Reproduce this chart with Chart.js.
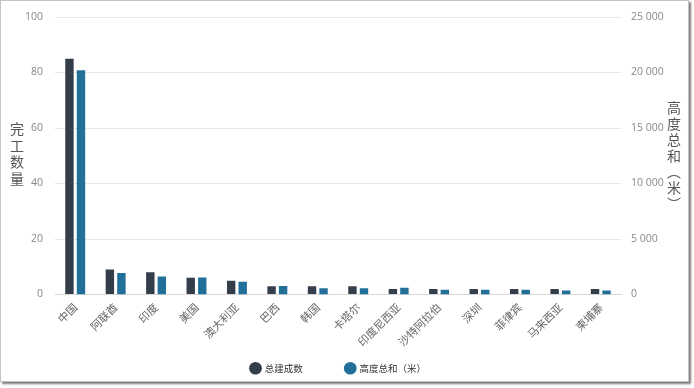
<!DOCTYPE html>
<html>
<head>
<meta charset="utf-8">
<script src="https://cdn.jsdelivr.net/npm/chart.js@4"></script>
<style>
  body { margin: 0; background: #fff; }
  .frame {
    position: absolute; left: 0; top: 0;
    width: 687px; height: 380px;
    border: 1px solid #c4c4c4;
    box-shadow: 2px 2px 2px #7a7a7a;
    background: #fff;
  }
</style>
</head>
<body>
<div class="frame"><canvas id="chart" width="687" height="380"></canvas></div>
<script>
const categories = ['中国', '阿联酋', '印度', '美国', '澳大利亚', '巴西', '韩国', '卡塔尔', '印度尼西亚', '沙特阿拉伯', '深圳', '菲律宾', '马来西亚', '柬埔寨'];
const completedCount = [85, 9, 8, 6, 5, 3, 3, 3, 2, 2, 2, 2, 2, 2];
const totalHeight = [20200, 1940, 1630, 1540, 1150, 760, 570, 570, 610, 430, 430, 430, 360, 360];
const leftTitle = ['完', '工', '数', '量'];
const rightTitle = ['高', '度', '总', '和', '︵', '米', '︶'];

const darkColor = '#343e4b';
const blueColor = '#22709a';
const tickFont = { family: '"Open Sans", sans-serif', size: 10.5 };

const fmt = v => String(v).replace(/\B(?=(\d{3})+(?!\d))/g, ' ');

// vertical stacked axis titles + let rotated x labels spill below the axis box
const stackedTitles = {
  id: 'stackedTitles',
  afterLayout(chart) {
    chart.scales.x.bottom = chart.height;
    chart.legend.left -= 6;
    chart.legend.right -= 6;
  },
  afterDraw(chart) {
    const ctx = chart.ctx;
    const area = chart.chartArea;
    const mid = (area.top + area.bottom) / 2;
    ctx.save();
    ctx.fillStyle = '#555';
    ctx.font = '14px "Noto Sans CJK SC", sans-serif';
    ctx.textAlign = 'center';
    ctx.textBaseline = 'middle';
    leftTitle.forEach((ch, i) => {
      ctx.fillText(ch, 16, mid - 2 + (i - (leftTitle.length - 1) / 2) * 16.5);
    });
    rightTitle.forEach((ch, i) => {
      ctx.fillText(ch, 673, mid + (i - (rightTitle.length - 1) / 2) * 16);
    });
    ctx.restore();
  }
};

new Chart(document.getElementById('chart'), {
  type: 'bar',
  data: {
    labels: categories,
    datasets: [{
      label: '总建成数',
      data: completedCount,
      backgroundColor: darkColor,
      yAxisID: 'y'
    }, {
      label: '高度总和（米）',
      data: totalHeight,
      backgroundColor: blueColor,
      yAxisID: 'y1'
    }]
  },
  options: {
    responsive: false,
    animation: false,
    categoryPercentage: 0.57,
    barPercentage: 0.73,
    layout: { padding: { left: 0, right: 0, top: 0, bottom: -2 } },
    plugins: {
      legend: {
        position: 'bottom',
        labels: {
          usePointStyle: true,
          pointStyle: 'circle',
          boxWidth: 9,
          boxHeight: 9,
          padding: 43,
          color: '#333',
          font: { family: '"Noto Sans CJK SC", sans-serif', size: 9.5 }
        }
      },
      tooltip: { enabled: false }
    },
    scales: {
      x: {
        grid: { display: false, drawTicks: false },
        border: { color: '#d8d8d8' },
        afterFit: s => { s.height = 26; },
        ticks: {
          minRotation: 45, maxRotation: 45,
          color: '#666',
          padding: 6,
          font: { family: '"Noto Sans CJK SC", sans-serif', size: 11 }
        }
      },
      y: {
        position: 'left',
        min: 0, max: 100,
        afterFit: s => { s.width = 54; s.paddingTop = 16; },
        ticks: { stepSize: 20, color: '#888', padding: 12, font: tickFont },
        grid: { color: '#e6e6e6', drawTicks: false },
        border: { display: false }
      },
      y1: {
        position: 'right',
        min: 0, max: 25000,
        afterFit: s => { s.width = 67; s.paddingTop = 16; },
        ticks: { stepSize: 5000, color: '#888', padding: 10, font: tickFont, callback: fmt },
        grid: { display: false, drawTicks: false },
        border: { display: false }
      }
    }
  },
  plugins: [stackedTitles]
});
</script>
</body>
</html>
